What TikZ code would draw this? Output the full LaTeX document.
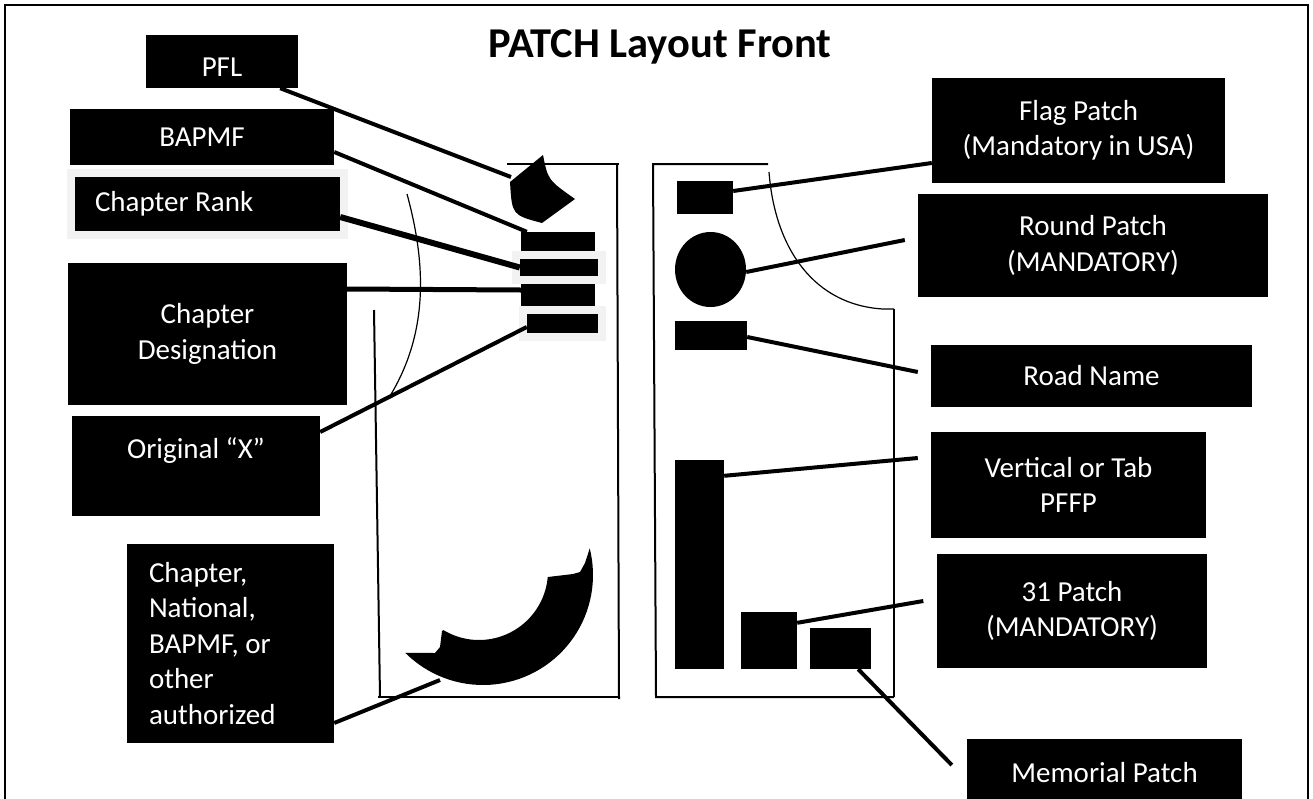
\documentclass[tikz,border=0pt]{standalone}
\usepackage{fontspec}
\setmainfont{Carlito}
\usetikzlibrary{shapes.geometric}
\definecolor{framegray}{RGB}{242,242,242}

\begin{document}
\begin{tikzpicture}[x=1pt,y=-1pt,
   lbox/.style={fill=black, text=white, inner sep=0pt, align=center,
     font=\fontsize{29}{35.5}\selectfont},
   pbox/.style={fill=black, inner sep=0pt},
   framed/.style={preaction={draw=framegray, line width=16pt}},
   wire/.style={line width=4pt},
   panel/.style={line width=2pt},
   seam/.style={line width=1.2pt}]
   \useasboundingbox (0,0) rectangle (1313,798);
   \draw[line width=2pt] (5,810) -- (5,5) -- (1308,5) -- (1308,810);
   \node[font=\fontsize{42.5}{50}\selectfont\bfseries, anchor=base] (title) at (660,57) {PATCH Layout Front};

   % left labels
   \node[lbox, minimum width=152, minimum height=53, text height=30pt] (pfl) at (222,61.5) {PFL};
   \node[lbox, minimum width=264, minimum height=56] (bapmf) at (202,137) {BAPMF};
   \node[lbox, framed, minimum width=265, minimum height=54, text width=225, align=flush left, inner xsep=20pt] (crank) at (207.5,204) {Chapter Rank};
   \node[lbox, minimum width=279, minimum height=142] (cdesig) at (207.5,334) {Chapter\\Designation};
   \node[lbox, minimum width=248, minimum height=100] (origx) at (196,466) {Original “X”\\\mbox{}};
   \node[lbox, minimum width=207, minimum height=199, text width=163, align=flush left, inner xsep=22pt] (chnat) at (230.5,643.5) {Chapter,\\National,\\BAPMF, or\\other\\authorized};

   % right labels
   \node[lbox, minimum width=293, minimum height=105] (flagbox) at (1078.5,130.5) {Flag Patch\\(Mandatory in USA)};
   \node[lbox, minimum width=350, minimum height=103] (roundbox) at (1093,245.5) {Round Patch\\(MANDATORY)};
   \node[lbox, minimum width=321, minimum height=62] (roadbox) at (1091.5,376) {Road Name};
   \node[lbox, minimum width=275, minimum height=106] (tabbox) at (1068.5,485) {Vertical or Tab\\PFFP};
   \node[lbox, minimum width=270, minimum height=114] (thirtybox) at (1072,611) {31 Patch\\(MANDATORY)};
   \node[lbox, minimum width=275, minimum height=68] (memobox) at (1104.5,773) {Memorial Patch};

   % left panel
   \draw[panel] (507,164) -- (619,164);
   \draw[panel] (617,164) -- (619,699);
   \draw[panel] (374,310) -- (380,697);
   \draw[panel] (378,697) -- (618,697);
   \draw[seam] (407,194) .. controls (425,260) and (430,330) .. (390,396);

   \fill (543,155) .. controls (548,180) .. (575,199) -- (542,223) .. controls (512,215) .. (510,182) -- cycle;
   \coordinate (pflpatch) at (511,177);
   \node[pbox, minimum width=74, minimum height=19] (rone) at (558,241.5) {};
   \node[pbox, framed, minimum width=78, minimum height=17] (rtwo) at (559,267.5) {};
   \node[pbox, minimum width=74, minimum height=22] (rthree) at (558,295) {};
   \node[pbox, framed, minimum width=71, minimum height=19] (rfour) at (562.5,323.5) {};

   \fill plot[domain=-14:135, samples=50] ({483+110*cos(\x)}, {575+110*sin(\x)})
     -- (435,653) -- (440,647) -- (442,631)
     -- plot[domain=121:5, samples=40] ({479+69*cos(\x)}, {571+69*sin(\x)})
     -- (573,574) -- (580,572) -- (585,563) -- cycle;
   \coordinate (cresc) at (440,680);

   % right panel
   \draw[panel] (768,164) -- (653,164) -- (656,697) -- (894,697);
   \draw[seam] (769,172) .. controls (775,250) and (815,305) .. (883,309) -- (894,309);
   \draw[panel] (894,309) -- (894,697);

   \node[pbox, minimum width=56, minimum height=33] (flagrect) at (705,197.5) {};
   \node[pbox, ellipse, minimum width=71, minimum height=75] (roundp) at (710.5,269.5) {};
   \node[pbox, minimum width=72, minimum height=29] (roadrect) at (711,335.5) {};
   \node[pbox, minimum width=49, minimum height=209] (tabrect) at (699.5,564.5) {};
   \node[pbox, minimum width=56, minimum height=57] (thirtyrect) at (769,640.5) {};
   \node[pbox, minimum width=61, minimum height=41] (memrect) at (840.5,648.5) {};

   % connectors
   \draw[wire] ([shift={(-18,0)}]pfl.south east) -- (pflpatch);
   \draw[wire] ([shift={(0,15)}]bapmf.east) -- ([shift={(6,0)}]rone.north west);
   \draw[wire, line width=6pt] ([shift={(0,13)}]crank.east) -- (rtwo.west);
   \draw[wire, line width=5pt] ([shift={(0,-45)}]cdesig.east) -- ([shift={(0,-5)}]rthree.west);
   \draw[wire] ([shift={(0,-34)}]origx.east) -- ([shift={(0,3.5)}]rfour.west);
   \draw[wire] ([shift={(0,79.5)}]chnat.east) -- (cresc);

   \draw[wire] ([shift={(0,-6.5)}]flagrect.east) -- ([shift={(0,32.5)}]flagbox.west);
   \draw[wire] ([shift={(0,2.5)}]roundp.east) -- ([shift={(-13,-5.5)}]roundbox.west);
   \draw[wire] ([shift={(0,1.5)}]roadrect.east) -- ([shift={(-13,-4)}]roadbox.west);
   \draw[wire] ([shift={(0,16)}]tabrect.north east) -- ([shift={(-13,-27)}]tabbox.west);
   \draw[wire] ([shift={(0,11)}]thirtyrect.north east) -- ([shift={(-13.5,-10)}]thirtybox.west);
   \draw[wire] ([shift={(-13,0)}]memrect.south east) -- ([shift={(-15,-8)}]memobox.west);
\end{tikzpicture}
\end{document}
